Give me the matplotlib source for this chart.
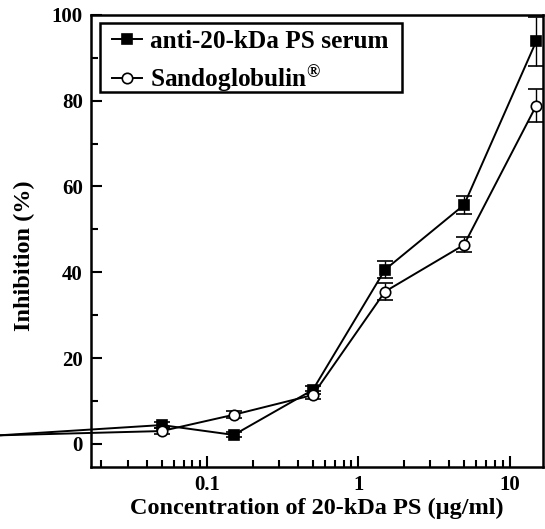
import numpy as np
import matplotlib.pyplot as plt
from matplotlib.patches import Rectangle
from matplotlib.ticker import LogLocator, FixedLocator, NullFormatter

plt.rcParams['font.family'] = ['Liberation Serif', 'DejaVu Serif']
plt.rcParams['font.weight'] = 'bold'
plt.rcParams['mathtext.fontset'] = 'custom'
plt.rcParams['mathtext.rm'] = 'Liberation Serif:bold'
plt.rcParams['mathtext.default'] = 'rm'

# concentration (ug/ml) and % inhibition
conc = [0.05, 0.15, 0.5, 1.5, 5, 15]
serum = [4.4, 2.1, 12.6, 40.6, 55.7, 93.8]
serum_err = [0.8, 0.6, 1.0, 2.0, 2.1, 5.8]
sando = [3.0, 6.8, 11.4, 35.5, 46.4, 78.8]
sando_err = [0.8, 0.8, 1.0, 2.0, 1.75, 3.8]

# both curves start from the same baseline point left of the axis
start_conc = 0.0042
start_val = 2.0

fig = plt.figure(figsize=(5.45, 5.29), dpi=100)
ax = fig.add_axes([0.167, 0.117, 0.829, 0.855])

for y, e, fc, lab in [(serum, serum_err, 'black', 'anti-20-kDa PS serum'),
                      (sando, sando_err, 'white', r'Sandoglobulin$^{®}$')]:
    ax.plot([start_conc] + conc, [start_val] + y, color='black', lw=1.4,
            clip_on=False, zorder=2)
    ax.errorbar(conc, y, yerr=e, fmt='none', ecolor='black', elinewidth=1.0,
                capsize=5.5, capthick=1.2, zorder=3)
    ax.plot(conc, y, ls='none', marker='s' if fc == 'black' else 'o',
            ms=7.5, mfc=fc, mec='black', mew=1.2, zorder=4)
    # legend proxy
    ax.plot([], [], color='black', lw=1.4, marker='s' if fc == 'black' else 'o',
            ms=7.5, mfc=fc, mec='black', mew=1.2, label=lab)

ax.set_xscale('log')
ax.set_xlim(0.01706, 16.6)
ax.set_ylim(-5.4, 100)

ax.xaxis.set_major_locator(FixedLocator([0.1, 1, 10]))
ax.set_xticklabels(['0.1', '1', '10'])
ax.xaxis.set_minor_locator(LogLocator(base=10, subs=np.arange(2, 10)))
ax.xaxis.set_minor_formatter(NullFormatter())
ax.set_yticks([0, 20, 40, 60, 80, 100])
ax.set_yticks([10, 30, 50, 70, 90], minor=True)

ax.tick_params(which='both', direction='in', top=False, right=False,
               labelsize=15, width=1.5, pad=6)
ax.tick_params(which='major', length=8)
ax.tick_params(which='minor', length=5)
for sp in ax.spines.values():
    sp.set_linewidth(1.8)

ax.set_ylabel('Inhibition (%)', fontsize=17.5, fontweight='bold')
ax.yaxis.set_label_coords(-0.124, 0.467)
ax.set_xlabel('Concentration of 20-kDa PS (\u00b5g/ml)', fontsize=17.5,
              fontweight='bold', labelpad=2)

leg = ax.legend(loc='upper left', bbox_to_anchor=(0.03, 0.983), fontsize=18.2,
                handlelength=1.2, handletextpad=0.3, borderpad=0.3,
                borderaxespad=0, labelspacing=0.4, frameon=False)
# box drawn by hand so it can sit tight under the second row
ax.add_patch(Rectangle((0.02, 0.83), 0.668, 0.153, transform=ax.transAxes,
                       fill=False, ec='black', lw=1.8, zorder=5))

fig.savefig('out.png', dpi=100)
